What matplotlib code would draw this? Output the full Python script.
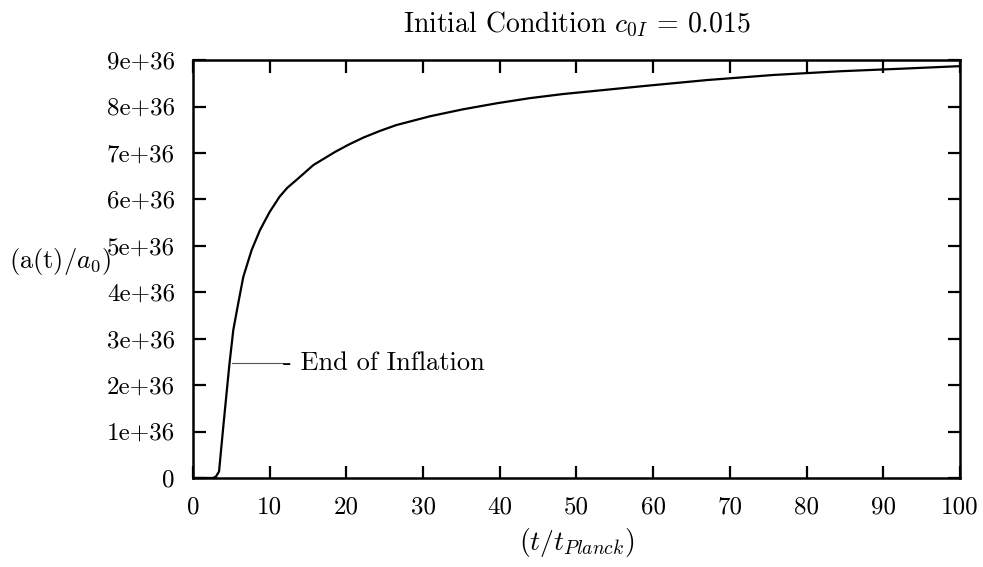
import matplotlib
matplotlib.use('Agg')
import matplotlib.pyplot as plt

# 곡선 데이터 (그림에서 읽은 값, 단위 1e36)
t = [0, 2.6, 3.0, 3.4, 3.95, 4.74, 5.26, 5.9, 6.56, 7.65, 8.74, 10.0, 11.3,
     12.3, 13.5, 15.7, 17.0, 18.5, 20.3, 22.2, 24.3, 26.5, 30.9, 35.2, 39.6,
     43.9, 48.3, 52.6, 58.7, 67.0, 75.7, 84.4, 93.1, 100]
a = [0, 0, 0.03, 0.14, 1.10, 2.43, 3.19, 3.76, 4.33, 4.91, 5.34, 5.73, 6.06,
     6.25, 6.42, 6.74, 6.87, 7.02, 7.18, 7.33, 7.47, 7.60, 7.79, 7.94, 8.07,
     8.18, 8.27, 8.34, 8.44, 8.57, 8.68, 8.76, 8.82, 8.87]

xticks = list(range(0, 101, 10))
yticks = list(range(0, 10))
ylabels = ['0'] + ['%de+36' % v for v in yticks[1:]]

# 인플레이션 끝 표시
end_t, end_a = 5.1, 2.48
label_t = 11.8

plt.rcParams['font.family'] = 'serif'
plt.rcParams['font.serif'] = ['cmr10']
plt.rcParams['mathtext.fontset'] = 'cm'
plt.rcParams['axes.unicode_minus'] = False

fig = plt.figure(figsize=(9.83, 5.67), dpi=100)
ax = fig.add_axes([0.1963, 0.157, 0.7803, 0.737])

ax.plot(t, a, color='black', lw=1.6)
ax.plot([end_t, label_t], [end_a, end_a], color='#555555', lw=0.8)
ax.text(label_t, end_a, '- End of Inflation', fontsize=19, va='center', ha='left')

ax.set_xlim(0, 100)
ax.set_ylim(0, 9)
ax.set_xticks(xticks)
ax.set_xticklabels([str(v) for v in xticks], fontsize=18)
ax.set_yticks(yticks)
ax.set_yticklabels(ylabels, fontsize=18)
ax.tick_params(direction='in', length=9, width=1.6, top=True, right=True, pad=13)
for s in ax.spines.values():
    s.set_linewidth(1.8)

ax.set_title(r'Initial Condition $c_{0I}$ = 0.015', fontsize=20, pad=20)
ax.set_xlabel(r'$(t/t_{Planck})$', fontsize=20, labelpad=6)
ax.set_ylabel(r'(a(t)/$a_0$)', fontsize=19, rotation=0, ha='left', va='center')
ax.yaxis.set_label_coords(-0.24, 0.517)

fig.savefig('out.png', dpi=100)
